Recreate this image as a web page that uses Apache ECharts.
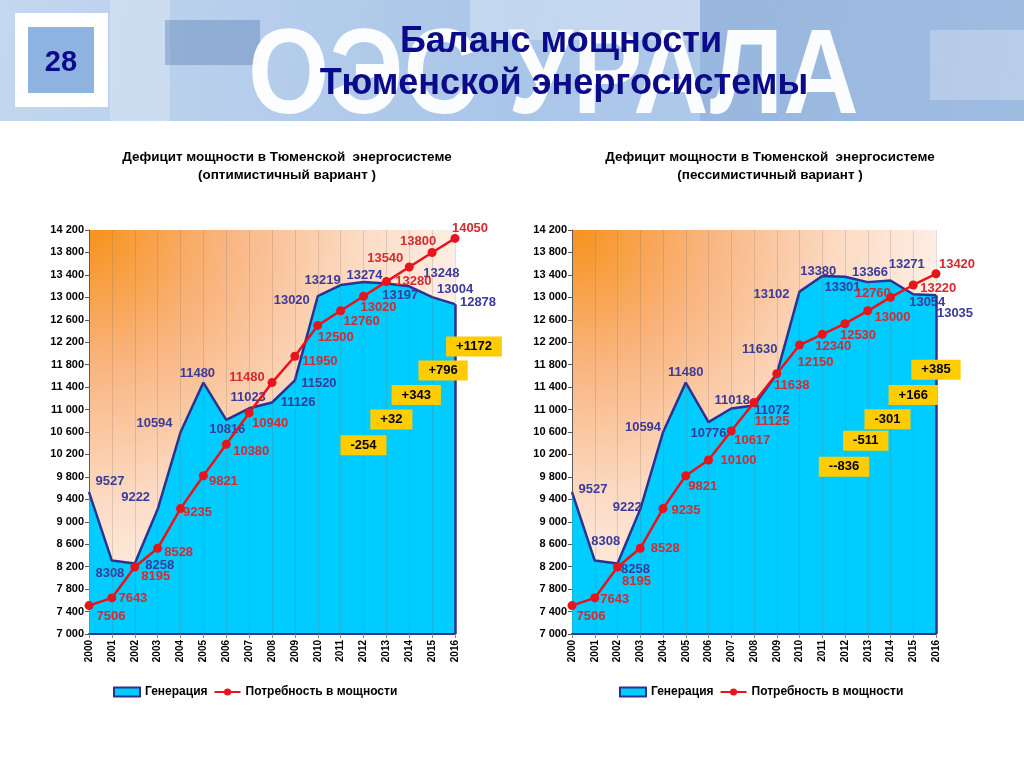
<!DOCTYPE html>
<html>
<head>
<meta charset="utf-8">
<script src="https://cdn.jsdelivr.net/npm/echarts@6/dist/echarts.min.js"></script>
<style>
html,body{margin:0;padding:0;background:#fff;}
#c{width:1024px;height:768px;}
</style>
</head>
<body>
<div id="c"></div>
<script>
// ---------- DATA ----------
const years = ['2000','2001','2002','2003','2004','2005','2006','2007','2008','2009','2010','2011','2012','2013','2014','2015','2016'];
const genOpt = [9527,8308,8258,9222,10594,11480,10816,11023,11126,11520,13020,13219,13274,13248,13197,13004,12878];
const demandOpt = [7506,7643,8195,8528,9235,9821,10380,10940,11480,11950,12500,12760,13020,13280,13540,13800,14050];
const genPess = [9527,8308,8258,9222,10594,11480,10776,11018,11072,11630,13102,13380,13366,13271,13301,13054,13035];
const demandPess = [7506,7643,8195,8528,9235,9821,10100,10617,11125,11638,12150,12340,12530,12760,13000,13220,13420];
const deficitYears = ['2012','2013','2014','2015','2016'];
const deficitOpt = ['-254','+32','+343','+796','+1172'];
const deficitPess = ['--836','-511','-301','+166','+385'];
const yMin = 7000, yMax = 14200, yStep = 400;

// ---------- STYLE (label offsets in pixels) ----------
const genOptOff = [[21,-11],[-2,13],[25,2],[-22,-12],[-26,-9],[-6,-9],[1,10],[-1,-11],[26,0],[24,3],[-26,4],[-18,-5],[1,-7],[55,-10],[-9,9],[23,-8],[23,-2]];
const demOptOff = [[22,11],[21,1],[21,9],[21,4],[17,4],[20,6],[25,7],[21,10],[-25,-5],[25,5],[18,12],[21,11],[15,11],[27,0],[-24,-9],[-14,-11],[15,-10]];
const genPessOff = [[21,-3],[11,-19],[18,6],[-13,-2],[-20,-5],[0,-10],[0,11],[1,-8],[18,5],[-17,-25],[-28,3],[-4,-5],[25,-4],[39,-18],[-48,7],[14,8],[19,18]];
const demPessOff = [[19,11],[20,2],[19,14],[25,0],[23,2],[17,11],[30,0],[21,9],[18,19],[15,12],[16,17],[11,12],[13,12],[5,-17],[2,20],[25,3],[21,-9]];
const defOptOff = [[0,149],[5,138],[7,128],[11,118],[19,108]];
const defPessOff = [[-1,143],[-2,130],[-3,122],[0,110],[0,96]];

const NAVY = '#2e3192', CYAN = '#00ccff', RED = '#e8141b';
const FONT = 'Liberation Sans, Arial, sans-serif';

function fmt(v){ return String(v).replace(/\B(?=(\d{3})+(?!\d))/g,' '); }

function gridBg(){
  return new echarts.graphic.RadialGradient(0, 0, 1.25, [
    {offset:0, color:'#f7921c'},
    {offset:0.3, color:'#f9b580'},
    {offset:0.6, color:'#fcdcc6'},
    {offset:1, color:'#ffffff'}
  ]);
}

function buildSeries(gi, gen, dem, gOff, dOff, defTxt, defOff){
  const genSeries = {
    name:'Генерация', type:'line', xAxisIndex:gi, yAxisIndex:gi,
    data: gen.map((v,i)=>({value:v, label:{offset:gOff[i]}})),
    symbol:'circle', symbolSize:1, showSymbol:true,
    lineStyle:{color:NAVY, width:2.5},
    itemStyle:{color:NAVY},
    areaStyle:{color:CYAN, opacity:1},
    label:{show:true, position:'inside', fontFamily:FONT, fontWeight:'bold', fontSize:13, color:'#3a3a9a'},
    z:2, animation:false,
    markLine:{
      silent:true, symbol:'none', animation:false,
      lineStyle:{color:NAVY, width:2.5, type:'solid'},
      label:{show:false},
      data:[[{coord:[years[years.length-1], yMin]},{coord:[years[years.length-1], gen[gen.length-1]]}]]
    }
  };
  const demSeries = {
    name:'Потребность в мощности', type:'line', xAxisIndex:gi, yAxisIndex:gi,
    data: dem.map((v,i)=>({value:v, label:{offset:dOff[i]}})),
    symbol:'circle', symbolSize:9,
    lineStyle:{color:RED, width:2.5},
    itemStyle:{color:RED},
    label:{show:true, position:'inside', fontFamily:FONT, fontWeight:'bold', fontSize:13, color:'#d42a30'},
    z:4, animation:false
  };
  const defSeries = {
    name:'deficit', type:'scatter', xAxisIndex:gi, yAxisIndex:gi,
    data: deficitYears.map((y,i)=>({value:[y, dem[years.indexOf(y)]], label:{offset:defOff[i]}})),
    symbolSize:1, itemStyle:{color:'rgba(0,0,0,0)', opacity:1},
    clip:false,
    label:{show:true, position:'inside', opacity:1, formatter:(p)=>defTxt[p.dataIndex],
      backgroundColor:'#ffcc00', padding:[4,10,3,10], fontFamily:FONT, fontWeight:'bold', fontSize:13, color:'#000'},
    z:10, animation:false, silent:true
  };
  return [genSeries, demSeries, defSeries];
}

function xAx(gi){
  return {type:'category', gridIndex:gi, data:years, boundaryGap:false, z:3,
    axisLine:{lineStyle:{color:NAVY, width:2}},
    axisTick:{show:true, length:4, lineStyle:{color:'#888'}},
    axisLabel:{rotate:90, fontFamily:FONT, fontWeight:'bold', fontSize:10, color:'#000', margin:6},
    splitLine:{show:true, lineStyle:{color:'rgba(110,110,110,0.22)', width:1}}};
}
function yAx(gi){
  return {type:'value', gridIndex:gi, min:yMin, max:yMax, interval:yStep,
    axisLine:{show:true, lineStyle:{color:'#555', width:1}},
    axisTick:{show:true, length:4, lineStyle:{color:'#555'}},
    axisLabel:{formatter:fmt, fontFamily:FONT, fontWeight:'bold', fontSize:11, color:'#000', margin:5},
    splitLine:{show:false}};
}

const chart = echarts.init(document.getElementById('c'), null, {renderer:'canvas'});

const headerBg = new echarts.graphic.LinearGradient(0,0,1,1,[
  {offset:0, color:'#c3d7ef'},{offset:0.5, color:'#a9c5e8'},{offset:1, color:'#b6cfec'}]);

function subtitle(x, y, t){
  return {type:'text', x:x, y:y, scaleX:1.12, z:5,
    style:{text:t, font:'bold 12px '+FONT, fill:'#000', align:'center', verticalAlign:'middle'}};
}

const graphics = [
  {type:'rect', x:0, y:0, shape:{width:1024, height:121}, style:{fill:headerBg}, z:0},
  {type:'rect', x:110, y:0, shape:{width:60, height:121}, style:{fill:'rgba(255,255,255,0.25)'}, z:0},
  {type:'rect', x:165, y:20, shape:{width:95, height:45}, style:{fill:'rgba(70,110,170,0.35)'}, z:0},
  {type:'rect', x:470, y:0, shape:{width:230, height:40}, style:{fill:'rgba(255,255,255,0.3)'}, z:0},
  {type:'rect', x:700, y:0, shape:{width:324, height:121}, style:{fill:'rgba(90,130,190,0.25)'}, z:0},
  {type:'rect', x:930, y:30, shape:{width:94, height:70}, style:{fill:'rgba(255,255,255,0.25)'}, z:0},
  {type:'text', x:248, y:20, scaleX:0.87, z:1,
    style:{text:'ОЭС УРАЛА', font:'bold 120px '+FONT, fill:'rgba(255,255,255,0.95)', verticalAlign:'top',
      shadowColor:'rgba(30,60,120,0.55)', shadowBlur:4, shadowOffsetX:3, shadowOffsetY:3}},
  {type:'rect', x:15, y:13, shape:{width:93, height:94}, style:{fill:'#ffffff'}, z:2},
  {type:'rect', x:28, y:27, shape:{width:66, height:66}, style:{fill:'#8fb3e0'}, z:3},
  {type:'text', x:61, y:63, z:4, style:{text:'28', font:'bold 29px '+FONT, fill:'#0a0a8c', align:'center', verticalAlign:'middle'}},
  {type:'text', x:561, y:42, z:5, style:{text:'Баланс мощности', font:'bold 36px '+FONT, fill:'#0b0b8a', align:'center', verticalAlign:'middle'}},
  {type:'text', x:564, y:84, z:5, style:{text:'Тюменской энергосистемы', font:'bold 36px '+FONT, fill:'#0b0b8a', align:'center', verticalAlign:'middle'}},
  subtitle(287, 158, 'Дефицит мощности в Тюменской  энергосистеме'),
  subtitle(287, 176, '(оптимистичный вариант )'),
  subtitle(770, 158, 'Дефицит мощности в Тюменской  энергосистеме'),
  subtitle(770, 176, '(пессимистичный вариант )')
];

const legendCommon = {
  top:681, itemWidth:26, itemHeight:9, itemGap:6, orient:'horizontal',
  textStyle:{fontFamily:FONT, fontWeight:'bold', fontSize:12, color:'#000'},
  data:[
    {name:'Генерация', icon:'rect', itemStyle:{color:CYAN, borderColor:NAVY, borderWidth:2}},
    {name:'Потребность в мощности'}
  ]
};

chart.setOption({
  animation:false,
  backgroundColor:'#ffffff',
  graphic: graphics,
  grid:[
    {left:89, right:1024-455, top:230, bottom:768-634, show:true, backgroundColor:gridBg(), borderWidth:0},
    {left:572, right:1024-936, top:230, bottom:768-634, show:true, backgroundColor:gridBg(), borderWidth:0}
  ],
  xAxis:[xAx(0), xAx(1)],
  yAxis:[yAx(0), yAx(1)],
  legend:[
    Object.assign({}, legendCommon, {left:108}),
    Object.assign({}, legendCommon, {left:614})
  ],
  series:[
    ...buildSeries(0, genOpt, demandOpt, genOptOff, demOptOff, deficitOpt, defOptOff),
    ...buildSeries(1, genPess, demandPess, genPessOff, demPessOff, deficitPess, defPessOff)
  ]
});
</script>
</body>
</html>
